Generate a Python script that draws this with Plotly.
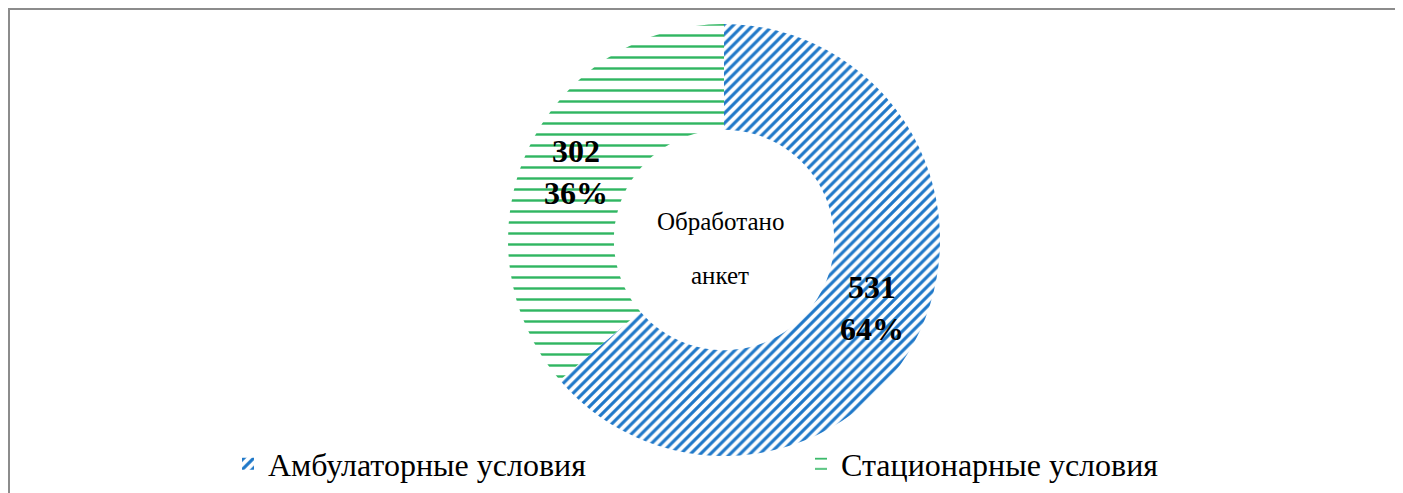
import plotly.graph_objects as go

categories = ["Амбулаторные условия", "Стационарные условия"]
values = [531, 302]
center_lines = ["Обработано", "анкет"]

W, H = 1403, 493
OFF = 8  # page offset of the figure inside the browser window


def px(sx):
    return (sx - OFF) / W


def py(sy):
    return 1 - (sy - OFF) / H


cx, cy, R = 724, 240, 216  # screen coords of donut

fig = go.Figure()
fig.add_trace(go.Pie(
    labels=categories,
    values=values,
    sort=False,
    direction="clockwise",
    rotation=0,
    hole=0.51,
    marker=dict(
        colors=["white", "white"],
        line=dict(width=0),
        pattern=dict(
            shape=["/", "-"],
            fgcolor=["#1f78c8", "#30b662"],
            bgcolor=["white", "white"],
            size=[7, 11],
            solidity=[0.45, 0.22],
            fillmode="replace",
        ),
    ),
    texttemplate="<b>%{value}<br>%{percent:.0%}</b>",
    textposition="inside",
    insidetextorientation="horizontal",
    textfont=dict(family="Liberation Serif", size=32, color="black"),
    domain=dict(x=[px(cx - R), px(cx + R)], y=[py(cy + R), py(cy - R)]),
    showlegend=True,
))

for line, sy in zip(center_lines, [222, 275]):
    fig.add_annotation(
        x=px(720), y=py(sy), xref="paper", yref="paper",
        text=line, showarrow=False, yanchor="middle",
        font=dict(family="Liberation Serif", size=25, color="black"),
    )

fig.add_shape(type="line", xref="paper", yref="paper",
              x0=0, x1=1.0, y0=1 - 1 / H, y1=1 - 1 / H,
              line=dict(color="#8c8c8c", width=2))
fig.add_shape(type="line", xref="paper", yref="paper",
              x0=1 / W, x1=1 / W, y0=0, y1=1,
              line=dict(color="#8c8c8c", width=2))

fig.update_layout(
    width=W, height=H,
    margin=dict(l=0, r=0, t=0, b=0),
    paper_bgcolor="white",
    plot_bgcolor="white",
    legend=dict(
        orientation="h",
        x=px(228), y=py(464), xanchor="left", yanchor="middle",
        font=dict(family="Liberation Serif", size=32, color="black"),
        entrywidth=528, entrywidthmode="pixels",
        itemwidth=30,
        bgcolor="rgba(0,0,0,0)",
    ),
)

fig.write_html("out.html")
